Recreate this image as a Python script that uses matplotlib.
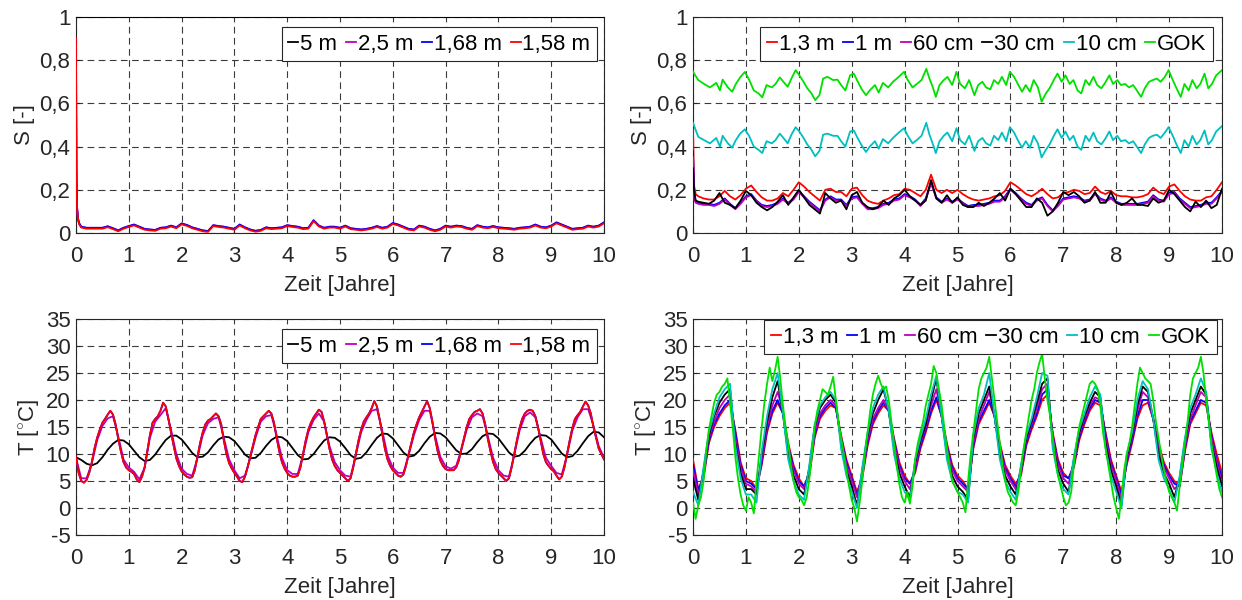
import matplotlib
matplotlib.use('Agg')
import matplotlib.pyplot as plt
import numpy as np

plt.rcParams['font.family'] = ['Liberation Sans', 'DejaVu Sans']
plt.rcParams['mathtext.fontset'] = 'custom'
plt.rcParams['mathtext.rm'] = 'Liberation Sans'
plt.rcParams['font.size'] = 16

# ---------------- Saettigung, tiefe Schichten (oben links) ----------------
t_s_tief = np.concatenate(([0, 0.004, 0.01, 0.02, 0.04, 0.06], np.arange(1, 101) / 10))
t_5m = [0, 10]
s_5m = [1.0, 1.0]
s_158m = [0.90, 0.55, 0.25, 0.11, 0.06, 0.04,
          0.025, 0.020, 0.020, 0.020, 0.020, 0.027, 0.018, 0.008, 0.020, 0.028,
          0.035, 0.025, 0.015, 0.012, 0.010, 0.020, 0.022, 0.030, 0.022, 0.040,
          0.033, 0.022, 0.015, 0.008, 0.005, 0.032, 0.028, 0.025, 0.020, 0.015,
          0.035, 0.022, 0.012, 0.006, 0.010, 0.022, 0.018, 0.020, 0.022, 0.032,
          0.028, 0.025, 0.018, 0.020, 0.055, 0.030, 0.020, 0.025, 0.025, 0.020,
          0.030, 0.018, 0.015, 0.012, 0.015, 0.020, 0.028, 0.020, 0.025, 0.042,
          0.035, 0.025, 0.015, 0.012, 0.030, 0.025, 0.015, 0.008, 0.015, 0.030,
          0.025, 0.030, 0.028, 0.020, 0.015, 0.032, 0.025, 0.022, 0.028, 0.022,
          0.020, 0.018, 0.015, 0.020, 0.022, 0.025, 0.035, 0.025, 0.022, 0.030,
          0.045, 0.035, 0.025, 0.015, 0.018, 0.020, 0.030, 0.025, 0.030, 0.045]
s_168m = [0.90, 0.56, 0.26, 0.12, 0.065, 0.045,
          0.029, 0.024, 0.024, 0.024, 0.024, 0.031, 0.022, 0.012, 0.024, 0.032,
          0.039, 0.029, 0.019, 0.016, 0.014, 0.024, 0.026, 0.034, 0.026, 0.044,
          0.037, 0.026, 0.019, 0.012, 0.009, 0.036, 0.032, 0.029, 0.024, 0.019,
          0.039, 0.026, 0.016, 0.010, 0.014, 0.026, 0.022, 0.024, 0.026, 0.036,
          0.032, 0.029, 0.022, 0.024, 0.059, 0.034, 0.024, 0.029, 0.029, 0.024,
          0.034, 0.022, 0.019, 0.016, 0.019, 0.024, 0.032, 0.024, 0.029, 0.046,
          0.039, 0.029, 0.019, 0.016, 0.034, 0.029, 0.019, 0.012, 0.019, 0.034,
          0.029, 0.034, 0.032, 0.024, 0.019, 0.036, 0.029, 0.026, 0.032, 0.026,
          0.024, 0.022, 0.019, 0.024, 0.026, 0.029, 0.039, 0.029, 0.026, 0.034,
          0.049, 0.039, 0.029, 0.019, 0.022, 0.024, 0.034, 0.029, 0.034, 0.049]
s_25m = s_168m  # liegt deckungsgleich unter 1,68 m

# ---------------- Saettigung, obere Schichten (oben rechts) ----------------
t_s_oben = np.concatenate(([0, 0.02, 0.05], np.arange(1, 101) / 10))
s_13m = [0.48, 0.22, 0.18,
         0.17, 0.16, 0.155, 0.155, 0.17, 0.195, 0.17, 0.155, 0.175, 0.205,
         0.22, 0.19, 0.165, 0.15, 0.15, 0.16, 0.185, 0.17, 0.2, 0.235,
         0.215, 0.19, 0.17, 0.15, 0.2, 0.205, 0.19, 0.19, 0.17, 0.205,
         0.21, 0.175, 0.15, 0.14, 0.135, 0.15, 0.16, 0.175, 0.18, 0.205,
         0.2, 0.185, 0.17, 0.2, 0.27, 0.2, 0.185, 0.2, 0.185, 0.2,
         0.18, 0.165, 0.155, 0.15, 0.155, 0.16, 0.17, 0.175, 0.195, 0.235,
         0.22, 0.2, 0.18, 0.17, 0.185, 0.205, 0.18, 0.16, 0.165, 0.185,
         0.19, 0.2, 0.195, 0.18, 0.185, 0.215, 0.19, 0.18, 0.195, 0.175,
         0.17, 0.17, 0.165, 0.165, 0.17, 0.18, 0.21, 0.19, 0.18, 0.215,
         0.225, 0.195, 0.17, 0.155, 0.15, 0.15, 0.165, 0.17, 0.2, 0.235]
s_1m = [0.38, 0.18, 0.15,
        0.14, 0.135, 0.135, 0.13, 0.14, 0.16, 0.135, 0.115, 0.14, 0.17,
        0.18, 0.15, 0.13, 0.125, 0.13, 0.14, 0.16, 0.14, 0.16, 0.195,
        0.17, 0.145, 0.125, 0.105, 0.155, 0.17, 0.155, 0.155, 0.13, 0.165,
        0.17, 0.14, 0.115, 0.115, 0.12, 0.135, 0.14, 0.155, 0.16, 0.18,
        0.17, 0.155, 0.13, 0.16, 0.235, 0.165, 0.145, 0.16, 0.145, 0.16,
        0.14, 0.125, 0.13, 0.13, 0.135, 0.14, 0.15, 0.15, 0.17, 0.205,
        0.185, 0.16, 0.14, 0.13, 0.155, 0.165, 0.13, 0.105, 0.13, 0.16,
        0.165, 0.17, 0.165, 0.15, 0.155, 0.185, 0.16, 0.15, 0.165, 0.145,
        0.135, 0.135, 0.135, 0.135, 0.14, 0.145, 0.175, 0.155, 0.15, 0.185,
        0.19, 0.16, 0.14, 0.12, 0.125, 0.13, 0.14, 0.14, 0.165, 0.195]
s_60cm = [0.35, 0.16, 0.14,
          0.135, 0.13, 0.13, 0.125, 0.135, 0.155, 0.13, 0.11, 0.135, 0.165,
          0.175, 0.145, 0.125, 0.12, 0.125, 0.135, 0.155, 0.135, 0.155, 0.19,
          0.165, 0.14, 0.12, 0.10, 0.15, 0.165, 0.15, 0.15, 0.125, 0.16,
          0.165, 0.135, 0.11, 0.11, 0.115, 0.13, 0.135, 0.15, 0.155, 0.175,
          0.165, 0.15, 0.125, 0.155, 0.23, 0.16, 0.14, 0.155, 0.14, 0.155,
          0.135, 0.12, 0.125, 0.125, 0.13, 0.135, 0.145, 0.145, 0.165, 0.2,
          0.18, 0.155, 0.135, 0.125, 0.15, 0.16, 0.125, 0.10, 0.125, 0.155,
          0.16, 0.165, 0.16, 0.145, 0.15, 0.18, 0.155, 0.145, 0.16, 0.14,
          0.13, 0.13, 0.13, 0.13, 0.135, 0.14, 0.17, 0.15, 0.145, 0.18,
          0.185, 0.155, 0.135, 0.115, 0.12, 0.125, 0.135, 0.135, 0.16, 0.19]
s_30cm = [0.30, 0.20, 0.15,
          0.145, 0.14, 0.135, 0.15, 0.185, 0.14, 0.13, 0.115, 0.15, 0.195,
          0.175, 0.14, 0.12, 0.105, 0.12, 0.145, 0.175, 0.13, 0.165, 0.2,
          0.165, 0.13, 0.11, 0.09, 0.185, 0.16, 0.14, 0.15, 0.11, 0.175,
          0.19, 0.14, 0.12, 0.11, 0.12, 0.15, 0.13, 0.16, 0.175, 0.2,
          0.17, 0.15, 0.13, 0.15, 0.245, 0.16, 0.14, 0.175, 0.14, 0.165,
          0.13, 0.12, 0.12, 0.14, 0.125, 0.14, 0.16, 0.185, 0.15, 0.205,
          0.18, 0.15, 0.12, 0.12, 0.16, 0.14, 0.08, 0.1, 0.14, 0.19,
          0.175, 0.19, 0.17, 0.14, 0.15, 0.19, 0.14, 0.14, 0.19, 0.14,
          0.13, 0.14, 0.16, 0.13, 0.13, 0.125, 0.16, 0.14, 0.15, 0.2,
          0.18, 0.15, 0.12, 0.1, 0.145, 0.12, 0.15, 0.115, 0.13, 0.205]

t_s_gok = [0, 0.1, 0.21, 0.32, 0.44, 0.51, 0.56, 0.66, 0.74, 0.81,
           0.89, 0.98, 1.06, 1.15, 1.24, 1.31, 1.39, 1.49, 1.56, 1.64,
           1.71, 1.79, 1.86, 1.94, 2.01, 2.09, 2.16, 2.24, 2.31, 2.39,
           2.46, 2.54, 2.65, 2.73, 2.80, 2.88, 2.97, 3.04, 3.10, 3.19,
           3.27, 3.34, 3.44, 3.51, 3.59, 3.69, 3.78, 3.89, 3.99, 4.06,
           4.15, 4.23, 4.32, 4.41, 4.47, 4.53, 4.59, 4.66, 4.74, 4.81,
           4.90, 4.98, 5.05, 5.14, 5.22, 5.32, 5.39, 5.47, 5.54, 5.62,
           5.69, 5.77, 5.84, 5.92, 5.99, 6.07, 6.14, 6.22, 6.29, 6.37,
           6.44, 6.52, 6.59, 6.67, 6.74, 6.82, 6.89, 6.97, 7.04, 7.12,
           7.19, 7.27, 7.34, 7.42, 7.49, 7.57, 7.64, 7.72, 7.79, 7.87,
           7.94, 8.02, 8.09, 8.17, 8.24, 8.32, 8.39, 8.47, 8.54, 8.62,
           8.69, 8.77, 8.84, 8.92, 8.99, 9.07, 9.14, 9.22, 9.29, 9.37,
           9.44, 9.52, 9.59, 9.67, 9.74, 9.81, 9.89, 10.0]
s_gok = [0.746, 0.708, 0.69, 0.674, 0.695, 0.66, 0.71, 0.674, 0.654, 0.69,
         0.72, 0.746, 0.71, 0.66, 0.646, 0.628, 0.685, 0.674, 0.69, 0.72,
         0.70, 0.677, 0.715, 0.754, 0.73, 0.70, 0.67, 0.646, 0.615, 0.638,
         0.715, 0.723, 0.708, 0.71, 0.685, 0.66, 0.73, 0.738, 0.708, 0.665,
         0.638, 0.66, 0.685, 0.65, 0.695, 0.674, 0.70, 0.723, 0.746, 0.708,
         0.674, 0.69, 0.708, 0.76, 0.715, 0.677, 0.63, 0.685, 0.708, 0.723,
         0.685, 0.746, 0.69, 0.67, 0.708, 0.638, 0.685, 0.70, 0.674, 0.665,
         0.708, 0.69, 0.723, 0.685, 0.746, 0.723, 0.69, 0.654, 0.685, 0.654,
         0.708, 0.674, 0.608, 0.646, 0.67, 0.708, 0.738, 0.70, 0.73, 0.69,
         0.708, 0.66, 0.646, 0.708, 0.685, 0.723, 0.685, 0.67, 0.695, 0.73,
         0.69, 0.708, 0.685, 0.69, 0.674, 0.685, 0.66, 0.63, 0.67, 0.70,
         0.708, 0.715, 0.70, 0.723, 0.754, 0.708, 0.67, 0.63, 0.69, 0.66,
         0.708, 0.67, 0.69, 0.738, 0.67, 0.69, 0.73, 0.754]
s_10cm = [0.51, 0.445, 0.43, 0.415, 0.44, 0.40, 0.45, 0.415, 0.395, 0.43,
          0.46, 0.48, 0.45, 0.40, 0.385, 0.37, 0.425, 0.415, 0.43, 0.46,
          0.44, 0.415, 0.455, 0.49, 0.47, 0.44, 0.41, 0.385, 0.355, 0.38,
          0.455, 0.46, 0.45, 0.45, 0.425, 0.40, 0.47, 0.475, 0.445, 0.405,
          0.375, 0.40, 0.425, 0.39, 0.435, 0.415, 0.44, 0.465, 0.485, 0.45,
          0.415, 0.43, 0.45, 0.51, 0.455, 0.415, 0.37, 0.425, 0.45, 0.465,
          0.425, 0.485, 0.43, 0.41, 0.45, 0.38, 0.425, 0.44, 0.415, 0.405,
          0.45, 0.43, 0.465, 0.425, 0.49, 0.465, 0.43, 0.395, 0.425, 0.395,
          0.45, 0.415, 0.35, 0.385, 0.41, 0.45, 0.48, 0.44, 0.47, 0.43,
          0.45, 0.40, 0.385, 0.45, 0.425, 0.465, 0.425, 0.41, 0.435, 0.47,
          0.43, 0.45, 0.425, 0.43, 0.415, 0.425, 0.40, 0.37, 0.41, 0.44,
          0.45, 0.455, 0.44, 0.465, 0.49, 0.45, 0.41, 0.37, 0.43, 0.40,
          0.45, 0.41, 0.43, 0.475, 0.41, 0.43, 0.47, 0.495]

# ---------------- Temperatur, tiefe Schichten (unten links) ----------------
t_fein = np.linspace(0, 10, 201)
t_grob = np.linspace(0, 10, 101)
T_158m = [9.4, 6.5, 5.0, 4.7, 5.2, 6.5, 8.5, 11.0, 13.0, 14.5, 15.8, 16.5, 17.3, 18.0, 17.3, 15.5, 12.8, 10.5, 8.5, 7.5,
          7.0, 6.7, 6.3, 5.3, 4.8, 5.8, 7.5, 10.5, 13.5, 15.8, 16.5, 17.0, 18.0, 19.5, 18.8, 16.5, 14.0, 11.5, 9.2, 7.8,
          6.8, 6.2, 5.8, 5.6, 5.7, 7.0, 9.5, 12.0, 14.0, 15.5, 16.2, 16.5, 17.0, 17.5, 17.0, 15.5, 12.5, 10.0, 8.3, 7.3,
          6.5, 5.8, 5.0, 4.8, 5.8, 7.5, 9.5, 11.5, 13.5, 15.0, 16.5, 17.0, 17.5, 18.0, 17.5, 15.8, 13.0, 10.5, 8.5, 7.3,
          6.5, 6.0, 5.8, 5.8, 6.0, 7.5, 10.0, 12.5, 14.5, 15.8, 16.8, 17.5, 18.2, 17.8, 16.0, 13.5, 11.0, 9.0, 7.8, 7.0,
          6.5, 6.0, 5.5, 5.0, 5.5, 7.5, 10.0, 12.5, 14.5, 16.0, 16.8, 17.5, 18.5, 19.8, 18.8, 16.5, 13.8, 11.0, 9.0, 7.8,
          7.0, 6.5, 6.0, 5.8, 6.2, 7.8, 10.0, 12.0, 14.0, 15.5, 16.8, 17.8, 18.8, 19.8, 18.5, 16.0, 13.0, 10.5, 8.8, 7.8,
          7.2, 7.0, 7.0, 7.0, 7.5, 8.8, 11.0, 13.0, 15.0, 16.5, 17.2, 17.8, 18.0, 18.3, 17.5, 15.5, 12.8, 10.5, 8.5, 7.2,
          6.5, 6.0, 5.5, 5.0, 5.5, 7.5, 10.0, 12.5, 14.8, 16.5, 17.5, 18.0, 18.2, 18.0, 17.0, 15.0, 12.5, 10.0, 8.5, 7.8,
          7.2, 6.8, 6.0, 5.3, 5.8, 7.5, 10.0, 12.5, 14.8, 16.5, 17.2, 17.8, 18.8, 19.7, 19.0, 17.5, 15.0, 13.0, 11.0, 10.0,
          9.0]
T_168m = T_158m  # liegt deckungsgleich unter 1,58 m
T_25m = [9.3, 5.5, 5.5, 8.3, 12.5, 15.2, 16.6, 17.0, 13.3, 9.0,
         7.5, 6.7, 5.3, 7.5, 13.0, 16.0, 17.2, 18.5, 14.5, 10.0,
         7.3, 6.3, 6.0, 9.2, 13.5, 15.7, 16.5, 16.8, 13.0, 9.0,
         7.0, 5.5, 6.0, 9.3, 13.0, 16.0, 17.0, 17.2, 13.5, 9.3,
         7.0, 6.3, 6.3, 9.8, 14.0, 16.3, 17.5, 16.0, 11.5, 8.5,
         7.0, 6.0, 5.8, 9.8, 14.0, 16.3, 18.0, 18.3, 14.3, 9.8,
         7.5, 6.5, 6.5, 9.8, 13.5, 16.3, 18.0, 18.0, 13.5, 9.5,
         7.7, 7.3, 7.8, 10.8, 14.5, 16.8, 17.5, 17.0, 13.3, 9.3,
         7.0, 6.0, 5.8, 9.8, 14.3, 17.0, 17.7, 16.8, 13.0, 9.3,
         7.8, 6.5, 6.2, 9.8, 14.3, 16.8, 18.3, 18.3, 15.3, 11.5,
         9.3]
T_5m = [9.4, 8.9, 8.2, 7.9, 8.3, 9.4, 10.8, 11.9, 12.6, 12.5,
        11.8, 10.6, 9.4, 8.7, 8.9, 9.9, 11.3, 12.6, 13.4, 13.4,
        12.7, 11.5, 10.2, 9.4, 9.5, 10.3, 11.6, 12.7, 13.2, 13.1,
        12.4, 11.2, 9.9, 9.2, 9.3, 10.2, 11.5, 12.6, 13.2, 13.1,
        12.4, 11.1, 9.8, 9.0, 9.1, 10.0, 11.3, 12.5, 13.1, 13.0,
        12.3, 11.1, 9.8, 9.1, 9.3, 10.3, 11.7, 13.0, 13.8, 13.7,
        12.9, 11.6, 10.3, 9.5, 9.7, 10.6, 12.0, 13.2, 13.9, 13.8,
        13.1, 11.9, 10.7, 10.0, 10.1, 10.9, 12.2, 13.3, 13.8, 13.7,
        12.9, 11.6, 10.3, 9.5, 9.7, 10.6, 11.9, 13.0, 13.5, 13.4,
        12.7, 11.4, 10.1, 9.4, 9.6, 10.6, 12.0, 13.3, 14.1, 14.0,
        13.1]

# ---------------- Temperatur, obere Schichten (unten rechts) ----------------
T_13m = [9.0, 3.5, 5.5, 12.0, 15.0, 17.0, 18.5, 19.5, 14.5, 8.5,
         5.5, 5.0, 3.5, 8.0, 14.0, 17.5, 19.5, 17.5, 12.0, 8.0,
         5.5, 4.0, 6.0, 13.0, 16.5, 18.0, 19.0, 18.5, 13.5, 9.0,
         6.0, 3.0, 5.5, 11.5, 15.5, 17.5, 19.0, 18.0, 13.0, 8.5,
         6.0, 4.5, 6.5, 11.0, 14.0, 17.5, 20.0, 17.0, 12.0, 8.0,
         6.0, 5.0, 3.5, 11.0, 15.5, 17.5, 19.5, 17.0, 12.0, 8.0,
         6.0, 4.5, 6.0, 11.5, 14.5, 17.0, 20.0, 21.0, 14.0, 9.0,
         6.5, 5.5, 7.5, 12.5, 15.5, 18.0, 19.5, 19.0, 14.0, 9.0,
         6.0, 3.0, 8.0, 12.0, 16.5, 19.0, 19.5, 16.5, 12.0, 8.5,
         6.5, 5.0, 4.0, 10.5, 15.5, 17.5, 19.5, 19.0, 14.0, 10.0,
         6.5]
T_1m = [8.0, 3.3, 6.0, 12.5, 15.5, 17.5, 19.0, 20.0, 14.0, 8.0,
        5.0, 4.5, 3.5, 8.5, 14.5, 18.0, 20.0, 17.5, 11.5, 7.5,
        5.0, 4.0, 6.5, 13.5, 17.0, 18.5, 19.5, 18.5, 13.0, 8.5,
        5.5, 2.5, 6.0, 12.0, 16.0, 18.0, 19.5, 18.0, 12.5, 8.0,
        5.5, 4.5, 7.0, 11.5, 14.5, 18.0, 20.5, 17.0, 11.5, 7.5,
        5.5, 4.5, 3.5, 11.5, 16.0, 18.0, 20.0, 17.0, 11.5, 7.5,
        5.5, 4.0, 6.5, 12.0, 15.0, 17.5, 21.0, 22.0, 13.5, 8.5,
        6.0, 5.5, 8.0, 13.0, 16.0, 18.5, 20.0, 19.5, 13.5, 8.5,
        5.5, 2.5, 8.5, 12.5, 17.0, 20.0, 20.0, 16.5, 11.5, 8.0,
        6.0, 4.5, 4.0, 11.0, 16.0, 18.0, 20.0, 19.5, 13.5, 9.0,
        5.5]
T_60cm = [7.0, 2.5, 6.5, 13.0, 16.0, 18.5, 20.0, 21.0, 13.0, 7.5,
          4.5, 4.0, 3.0, 9.0, 15.0, 19.0, 21.5, 18.0, 11.0, 7.0,
          4.5, 3.5, 7.0, 14.0, 17.5, 19.0, 20.0, 19.0, 12.5, 8.0,
          5.0, 2.0, 6.5, 12.5, 16.5, 18.5, 20.0, 18.0, 12.0, 7.5,
          5.0, 3.5, 7.5, 12.0, 15.0, 19.0, 22.0, 17.0, 11.0, 7.0,
          5.0, 4.0, 3.0, 12.0, 16.5, 19.0, 21.5, 17.0, 11.0, 7.0,
          5.0, 3.5, 7.0, 12.5, 15.5, 18.5, 22.0, 23.0, 13.0, 8.0,
          5.5, 4.5, 8.5, 13.5, 16.5, 19.0, 20.5, 20.0, 13.0, 8.0,
          5.0, 1.5, 9.0, 13.0, 18.0, 21.5, 20.5, 16.5, 11.0, 7.5,
          5.5, 3.5, 4.5, 11.5, 16.5, 19.0, 21.5, 20.5, 13.0, 8.5,
          4.5]
T_30cm = [5.5, 1.5, 7.0, 13.5, 17.0, 19.5, 21.0, 22.0, 12.0, 6.5,
          3.5, 3.5, 2.5, 10.0, 16.0, 20.5, 23.5, 17.5, 10.0, 6.0,
          3.5, 2.5, 7.5, 15.0, 18.5, 20.0, 21.0, 19.5, 12.0, 7.0,
          4.0, 0.5, 7.0, 13.5, 17.5, 20.0, 22.0, 18.0, 11.0, 6.5,
          4.0, 2.0, 8.5, 12.5, 15.5, 20.0, 24.0, 17.0, 10.0, 6.0,
          4.0, 3.0, 1.5, 13.0, 17.5, 20.0, 22.5, 17.0, 10.0, 6.0,
          4.0, 2.5, 7.5, 13.0, 16.0, 19.5, 23.0, 24.0, 12.0, 7.0,
          4.5, 3.0, 9.0, 14.0, 17.0, 19.5, 21.5, 20.5, 12.0, 7.0,
          4.0, 0.5, 9.5, 13.5, 19.0, 22.5, 21.5, 16.5, 10.0, 6.5,
          4.5, 2.0, 5.5, 12.5, 17.5, 20.0, 22.5, 21.0, 12.0, 7.5,
          4.0]
T_10cm = [3.0, 0.5, 7.5, 14.0, 17.5, 20.5, 22.0, 23.0, 11.5, 5.5,
          2.5, 2.5, 1.0, 10.5, 17.0, 22.0, 25.0, 17.5, 9.0, 5.0,
          2.5, 1.5, 8.0, 15.5, 19.0, 20.5, 21.5, 20.0, 11.0, 6.0,
          3.0, 0.0, 7.5, 14.0, 18.5, 21.0, 22.5, 18.0, 10.0, 5.5,
          3.0, 1.5, 9.0, 13.0, 16.5, 21.0, 24.5, 17.0, 9.0, 5.0,
          3.0, 2.5, 1.0, 13.5, 18.5, 21.0, 25.0, 17.0, 9.0, 5.0,
          3.0, 1.5, 8.0, 13.5, 16.5, 20.5, 25.0, 24.5, 11.0, 6.0,
          3.5, 2.5, 9.5, 14.5, 17.5, 20.5, 22.5, 21.0, 11.0, 6.0,
          3.0, 0.0, 10.0, 14.0, 20.0, 23.5, 22.0, 16.5, 9.0, 5.5,
          3.5, 1.0, 6.0, 13.0, 18.5, 21.0, 24.0, 21.5, 11.0, 6.5,
          3.0]
T_gok = [1.0, -2.0, 0.5, 2.0, 5.0, 10.5, 14.5, 17.0, 19.5, 21.0, 21.5, 22.5, 23.0, 24.0, 19.5, 15.0, 9.5, 5.5, 2.5, 0.5,
         -0.5, 2.0, 1.0, -1.0, 5.0, 10.0, 15.0, 19.5, 23.0, 26.0, 23.5, 25.5, 28.0, 24.0, 19.0, 15.0, 12.0, 8.0, 5.0, 3.0,
         2.0, 1.5, 0.5, 2.0, 5.5, 10.0, 15.0, 18.0, 20.0, 22.0, 21.5, 21.0, 22.5, 24.3, 20.0, 16.0, 13.0, 10.0, 7.0, 4.0,
         1.5, 0.0, -2.5, 1.0, 5.0, 10.0, 14.0, 18.0, 21.0, 23.0, 24.5, 23.0, 22.0, 22.5, 20.0, 16.0, 12.0, 8.0, 4.5, 2.0,
         1.0, 3.0, 0.8, 4.0, 9.0, 12.0, 14.0, 16.0, 19.0, 21.0, 23.0, 26.3, 25.0, 22.0, 19.0, 15.0, 11.0, 8.0, 5.0, 4.0,
         3.0, 2.0, 1.0, -0.8, 5.0, 10.0, 14.0, 18.0, 22.0, 24.0, 25.0, 26.0, 28.0, 24.0, 20.0, 16.0, 12.0, 8.0, 5.0, 3.0,
         2.0, 1.0, 0.5, 3.0, 7.0, 11.0, 14.0, 17.0, 20.0, 22.0, 25.0, 27.0, 28.5, 24.0, 20.0, 17.0, 13.0, 9.0, 6.0, 4.0,
         2.0, 0.5, 1.0, 3.0, 8.0, 12.0, 15.0, 17.0, 19.0, 21.0, 23.0, 23.5, 23.0, 22.0, 19.0, 14.0, 11.0, 8.0, 5.0, 2.0,
         0.0, -2.0, 2.0, 7.0, 10.0, 12.0, 15.0, 19.0, 23.0, 26.0, 25.0, 24.0, 23.5, 23.0, 20.0, 16.0, 13.0, 10.0, 7.0, 5.0,
         3.0, 2.0, 1.0, -0.5, 4.0, 8.0, 12.0, 16.0, 21.0, 24.0, 25.0, 26.0, 28.0, 25.0, 20.0, 16.0, 12.0, 9.0, 6.0, 3.5,
         2.0]

dunkel = '#262626'
lw = 1.3


def achse(ax, yticks, ylabels, ylabel):
    ax.set_xlim(0, 10)
    ax.set_xticks(range(11))
    ax.set_ylim(yticks[0], yticks[-1])
    ax.set_yticks(yticks)
    ax.set_yticklabels(ylabels)
    ax.set_axisbelow(True)
    ax.grid(True, linestyle=(0, (6, 4)), color='#3a3a3a', linewidth=0.8)
    ax.tick_params(direction='in', length=3, colors=dunkel, labelsize=16)
    ax.tick_params(axis='x', pad=9)
    ax.tick_params(axis='y', pad=4)
    for sp in ax.spines.values():
        sp.set_color(dunkel)
        sp.set_linewidth(0.8)
    ax.set_xlabel('Zeit [Jahre]', color=dunkel, labelpad=6)
    ax.set_ylabel(ylabel, color=dunkel, labelpad=3)


def legende(ax, ncol, anchor):
    leg = ax.legend(loc='upper right', bbox_to_anchor=anchor, ncol=ncol,
                    handlelength=0.45, handletextpad=0.08, columnspacing=0.4,
                    borderaxespad=0, borderpad=0.3, fancybox=False,
                    edgecolor=dunkel, framealpha=1, fontsize=16)
    leg.get_frame().set_linewidth(0.8)


fig = plt.figure(figsize=(12.42, 6), dpi=100)
ax1 = fig.add_axes([76 / 1242, 1 - 233 / 600, 528 / 1242, 216 / 600])
ax2 = fig.add_axes([693 / 1242, 1 - 233 / 600, 529 / 1242, 216 / 600])
ax3 = fig.add_axes([76 / 1242, 1 - 535 / 600, 528 / 1242, 216 / 600])
ax4 = fig.add_axes([693 / 1242, 1 - 535 / 600, 529 / 1242, 216 / 600])

s_ticks = [0, 0.2, 0.4, 0.6, 0.8, 1.0]
s_labels = ['0', '0,2', '0,4', '0,6', '0,8', '1']
T_ticks = list(range(-5, 36, 5))
T_labels = [str(v) for v in T_ticks]
kw = dict(lw=lw, zorder=3)

# oben links
ax1.plot(t_5m, s_5m, color='k', label='5 m', **kw)
ax1.plot(t_s_tief, s_25m, color='m', label='2,5 m', **kw)
ax1.plot(t_s_tief, s_168m, color='b', label='1,68 m', **kw)
ax1.plot(t_s_tief, s_158m, color='r', label='1,58 m', **kw)
achse(ax1, s_ticks, s_labels, 'S [-]')
legende(ax1, 4, (0.987, 0.954))

# oben rechts
ax2.plot(t_s_oben, s_13m, color='r', label='1,3 m', **kw)
ax2.plot(t_s_oben, s_1m, color='b', label='1 m', **kw)
ax2.plot(t_s_oben, s_60cm, color='m', label='60 cm', **kw)
ax2.plot(t_s_oben, s_30cm, color='k', label='30 cm', **kw)
ax2.plot(t_s_gok, s_10cm, color='c', label='10 cm', **kw)
ax2.plot(t_s_gok, s_gok, color='#00e000', label='GOK', **kw)
achse(ax2, s_ticks, s_labels, 'S [-]')
legende(ax2, 6, (0.983, 0.954))

# unten links
ax3.plot(t_grob, T_5m, color='k', label='5 m', **kw)
ax3.plot(t_grob, T_25m, color='m', label='2,5 m', **kw)
ax3.plot(t_fein, T_168m, color='b', label='1,68 m', **kw)
ax3.plot(t_fein, T_158m, color='r', label='1,58 m', **kw)
achse(ax3, T_ticks, T_labels, r'T [$^{\circ}$C]')
legende(ax3, 4, (0.987, 0.954))

# unten rechts
ax4.plot(t_grob, T_13m, color='r', label='1,3 m', **kw)
ax4.plot(t_grob, T_1m, color='b', label='1 m', **kw)
ax4.plot(t_grob, T_60cm, color='m', label='60 cm', **kw)
ax4.plot(t_grob, T_30cm, color='k', label='30 cm', **kw)
ax4.plot(t_grob, T_10cm, color='c', label='10 cm', **kw)
ax4.plot(t_fein, T_gok, color='#00e000', label='GOK', **kw)
achse(ax4, T_ticks, T_labels, r'T [$^{\circ}$C]')
legende(ax4, 6, (0.99, 0.995))

fig.savefig('out.png', dpi=100)
